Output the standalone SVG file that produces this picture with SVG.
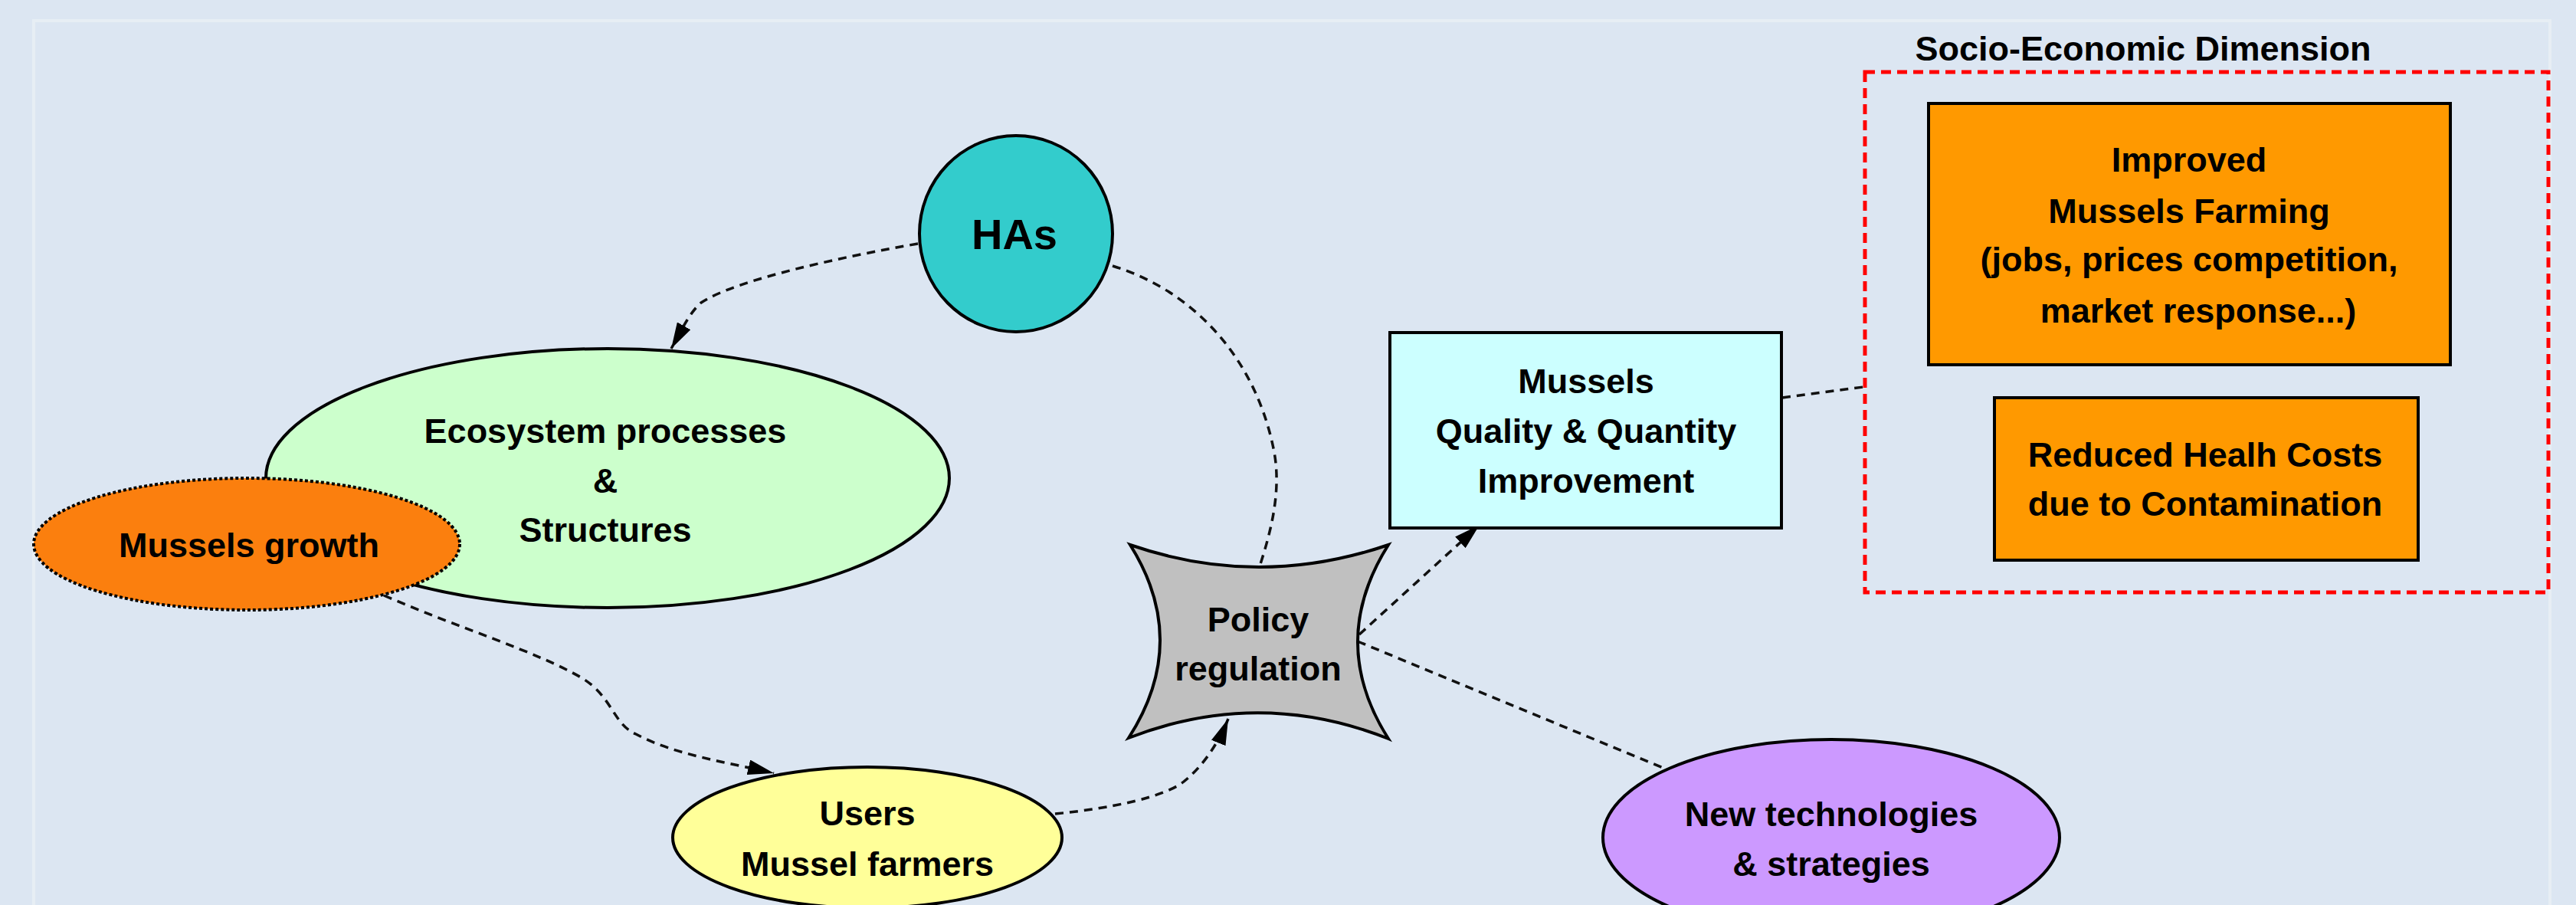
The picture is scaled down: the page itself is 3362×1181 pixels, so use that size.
<svg xmlns="http://www.w3.org/2000/svg" width="3362" height="1181" viewBox="0 0 3362 1181">
<defs>
<style>
.t{font-family:"Liberation Sans",Arial,sans-serif;font-weight:bold;font-size:45px;fill:#000;text-anchor:middle}
.n{stroke:#000;stroke-width:4}
.c{fill:none;stroke:#111;stroke-width:3.5;stroke-dasharray:11 8}
</style>
<marker id="ah" viewBox="0 0 34 20" refX="34" refY="10" markerWidth="34" markerHeight="20" markerUnits="userSpaceOnUse" orient="auto">
<path d="M0,0 L34,10 L0,20 Z" fill="#000"/>
</marker>
</defs>
<rect x="0" y="0" width="3362" height="1181" fill="#dce6f2"/>
<path d="M44,1181 L44,27 L3328,27 L3328,1181" fill="none" stroke="#e7eef4" stroke-width="4"/>

<g id="connectors">
<path class="c" d="M1198,318 C1100,335 960,365 915,395 C900,408 890,430 876,455" marker-end="url(#ah)"/>
<path class="c" d="M1452,347 C1560,380 1640,470 1663,590 C1672,640 1660,690 1644,739"/>
<path class="c" d="M501,777 C600,820 700,850 760,885 C800,910 800,945 830,958 C880,985 950,995 1010,1009" marker-end="url(#ah)"/>
<path class="c" d="M1377,1062 C1450,1055 1520,1040 1545,1020 C1570,1000 1590,970 1603,938" marker-end="url(#ah)"/>
<path class="c" d="M1774,828 L1931,685" marker-end="url(#ah)"/>
<path class="c" d="M1772,837 L2173,1003"/>
<path class="c" d="M2326,519 L2432,505"/>
</g>

<g id="socio-economic">
<rect x="2434" y="94" width="892" height="679" fill="none" stroke="#ff0000" stroke-width="5" stroke-dasharray="13 8"/>
<text class="t" x="2797" y="79">Socio-Economic Dimension</text>
</g>

<g id="has">
<ellipse class="n" cx="1326" cy="305" rx="126" ry="128" fill="#33cccc"/>
<text class="t" x="1324" y="325" style="font-size:56px">HAs</text>
</g>

<g id="ecosystem">
<ellipse class="n" cx="793" cy="624" rx="446" ry="169" fill="#ccffcc"/>
<text class="t" x="790" y="578">Ecosystem processes</text>
<text class="t" x="790" y="643">&amp;</text>
<text class="t" x="790" y="707">Structures</text>
</g>

<g id="mussels-growth">
<ellipse cx="322" cy="710" rx="278" ry="86" fill="#fb7f0e" stroke="#000" stroke-width="4" stroke-dasharray="4 3"/>
<text class="t" x="325" y="727">Mussels growth</text>
</g>

<g id="users">
<ellipse class="n" cx="1132" cy="1093" rx="254" ry="92" fill="#ffff99"/>
<text class="t" x="1132" y="1077">Users</text>
<text class="t" x="1132" y="1143">Mussel farmers</text>
</g>

<g id="policy">
<path class="n" d="M1475,711 Q1643,769 1812,711 Q1732,838 1812,964 Q1643,897 1473,963 Q1554,837 1475,711 Z" fill="#c0c0c0" stroke-linejoin="miter"/>
<text class="t" x="1642" y="824">Policy</text>
<text class="t" x="1642" y="888">regulation</text>
</g>

<g id="quality">
<rect class="n" x="1814" y="434" width="511" height="255" fill="#ccffff"/>
<text class="t" x="2070" y="513">Mussels</text>
<text class="t" x="2070" y="578">Quality &amp; Quantity</text>
<text class="t" x="2070" y="643">Improvement</text>
</g>

<g id="improved-farming">
<rect class="n" x="2517" y="135" width="681" height="341" fill="#ff9900"/>
<text class="t" x="2857" y="224">Improved</text>
<text class="t" x="2857" y="291">Mussels Farming</text>
<text class="t" x="2857" y="354">(jobs, prices competition,</text>
<text class="t" x="2869" y="421">market response...)</text>
</g>

<g id="reduced-costs">
<rect class="n" x="2603" y="519" width="553" height="212" fill="#ff9900"/>
<text class="t" x="2878" y="609">Reduced Healh Costs</text>
<text class="t" x="2878" y="673">due to Contamination</text>
</g>

<g id="new-tech">
<ellipse class="n" cx="2390" cy="1093" rx="298" ry="128" fill="#cc99ff"/>
<text class="t" x="2390" y="1078">New technologies</text>
<text class="t" x="2390" y="1143">&amp; strategies</text>
</g>
</svg>
